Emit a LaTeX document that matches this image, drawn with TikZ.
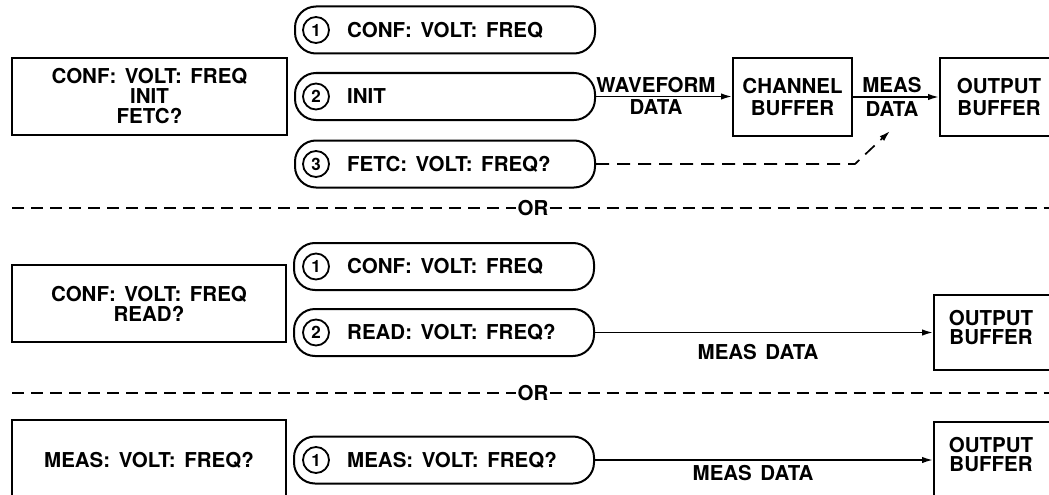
\documentclass[tikz,border=0pt]{standalone}
\usepackage{fontspec}
\setmainfont{TeX Gyre Heros}
\usetikzlibrary{arrows.meta}
\newcommand\diagfont{\fontsize{20.5}{20}\selectfont\bfseries\spaceskip=0.42em plus 0.1em\relax}
\begin{document}
\begin{tikzpicture}[x=1pt,y=-1pt,
  every node/.style={font=\diagfont, inner sep=0pt},
  box/.style={draw, line width=2pt, rectangle, align=center},
  pill/.style={draw, line width=2pt, rounded corners=21pt, minimum width=300pt, minimum height=47pt},
  num/.style={draw, circle, line width=1.8pt, minimum size=26pt, font=\fontsize{17}{17}\selectfont\bfseries},
  ptext/.style={anchor=west},
  conn/.style={line width=1.7pt, -{Latex[length=11pt,width=6.5pt]}},
  dconn/.style={conn, dash pattern=on 13pt off 8pt},
  sep/.style={line width=1.7pt, dash pattern=on 12pt off 7pt},
]
\useasboundingbox (0,0) rectangle (1049,495);
\clip (0,0) rectangle (1049,495);

% ---------- top section ----------
\node[box, minimum width=275pt, minimum height=77pt] (l1) at (149.5,96.5) {CONF: VOLT: FREQ\\INIT\\FETC?};

\node[pill] (p11) at (445,30) {};
\node[num] (n11) at (316,30) {1};
\node[ptext] (t11) at (347,30) {CONF: VOLT: FREQ};

\node[pill] (p12) at (445,96.5) {};
\node[num] (n12) at (316,96.5) {2};
\node[ptext] (t12) at (347,96.5) {INIT};

\node[pill] (p13) at (445,164) {};
\node[num] (n13) at (316,164) {3};
\node[ptext] (t13) at (347,164) {FETC: VOLT: FREQ?};

\node[box, minimum width=119pt, minimum height=78pt] (cb) at (792.5,97) {CHANNEL\\[2pt]BUFFER};
\node[box, minimum width=118pt, minimum height=78pt] (ob1) at (999,97) {OUTPUT\\[2pt]BUFFER};

\draw[conn] (p12.east) -- (p12.east -| cb.west);
\node (wf) at (656,85) {WAVEFORM};
\node (wd) at (656,107.5) {DATA};

\draw[conn] (cb.east) -- (ob1.west);
\node (mm) at (892,85) {MEAS};
\node (md) at (892,109) {DATA};

\coordinate (bend) at (855,164);
\coordinate (tip) at (890,131);
\draw[dconn] (p13.east) -- (bend) -- (tip);

% ---------- separator 1 ----------
\node (or1) at (533,208) {OR};
\coordinate (s1l) at (12,208);
\coordinate (s1r) at (1049,208);
\draw[sep] (s1l) -- ([xshift=-1pt]or1.west);
\draw[sep] ([xshift=1pt]or1.east) -- (s1r);

% ---------- middle section ----------
\node[box, minimum width=274pt, minimum height=77pt] (l2) at (149,303.5) {CONF: VOLT: FREQ\\READ?};

\node[pill] (p21) at (444,266.5) {};
\node[num] (n21) at (316,266.5) {1};
\node[ptext] (t21) at (347,266.5) {CONF: VOLT: FREQ};

\node[pill] (p22) at (444,332.5) {};
\node[num] (n22) at (316,332.5) {2};
\node[ptext] (t22) at (347,332.5) {READ: VOLT: FREQ?};

\node[box, minimum width=126pt, minimum height=75pt] (ob2) at (997,332.5) {};
\node[align=center] (ob2t) at (991,327.5) {OUTPUT\\[-1pt]BUFFER};

\draw[conn] (p22.east) -- (p22.east -| ob2.west);
\node (md2) at (758,352) {MEAS DATA};

% ---------- separator 2 ----------
\node (or2) at (533,393) {OR};
\coordinate (s2l) at (12,393);
\coordinate (s2r) at (1049,393);
\draw[sep] (s2l) -- ([xshift=-1pt]or2.west);
\draw[sep] ([xshift=1pt]or2.east) -- (s2r);

% ---------- bottom section ----------
\node[box, minimum width=274pt, minimum height=80pt] (l3) at (149,460) {MEAS: VOLT: FREQ?};

\node[pill] (p31) at (444,460) {};
\node[num] (n31) at (316,460) {1};
\node[ptext] (t31) at (347,460) {MEAS: VOLT: FREQ?};

\node[box, minimum width=126pt, minimum height=88pt] (ob3) at (997,466) {};
\node[align=center] (ob3t) at (991,455) {OUTPUT\\[-1pt]BUFFER};

\draw[conn] (p31.east) -- (p31.east -| ob3.west);
\node (md3) at (753,473) {MEAS DATA};
\end{tikzpicture}
\end{document}
